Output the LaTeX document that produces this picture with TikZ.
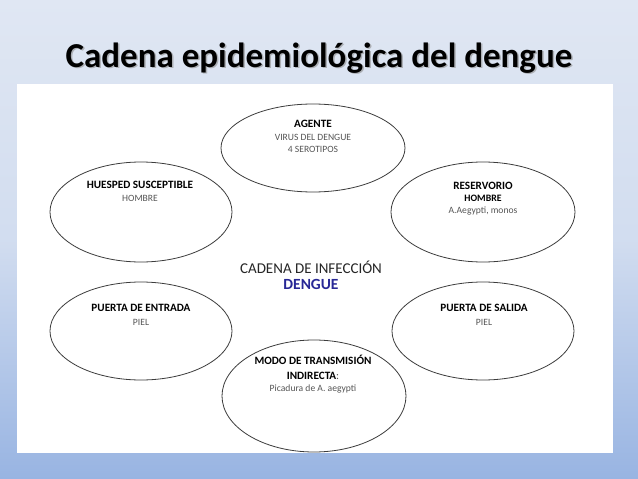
\documentclass[tikz,border=0pt]{standalone}
\usepackage{fontspec}
\setmainfont{Carlito}
\definecolor{bgtop}{RGB}{224,231,243}
\definecolor{bgbot}{RGB}{152,180,226}
\definecolor{txtgray}{RGB}{85,85,85}
\definecolor{dengueblue}{RGB}{40,40,150}
\definecolor{ringgray}{RGB}{60,60,60}
\tikzset{
  head/.style={font=\bfseries\fontsize{11.2}{13}\selectfont, text=black, inner sep=0pt},
  sub/.style={font=\fontsize{9.6}{11}\selectfont, text=txtgray, inner sep=0pt},
  ringline/.style={draw=ringgray, line width=0.8pt},
}
\begin{document}
\begin{tikzpicture}[x=1pt,y=-1pt]
\useasboundingbox (0,0) rectangle (638,479);
\shade[top color=bgtop, bottom color=bgbot, middle color=bgtop!80!bgbot, shading angle=0] (0,0) rectangle (638,479);
\fill[white] (17,84) rectangle (613,453);
% title
\node[font=\bfseries\fontsize{35}{40}\selectfont, text=black!45, opacity=0.6] at (320.5,59.5) {Cadena epidemiológica del dengue};
\node[font=\bfseries\fontsize{35}{40}\selectfont, text=black] (title) at (319,58) {Cadena epidemiológica del dengue};
% ellipses
\draw[ringline] (313,148) ellipse [x radius=92, y radius=44];
\draw[ringline] (141,212) ellipse [x radius=91, y radius=50];
\draw[ringline] (483,212) ellipse [x radius=92, y radius=50];
\draw[ringline] (141,331) ellipse [x radius=91, y radius=49];
\draw[ringline] (483,331) ellipse [x radius=91, y radius=49];
\draw[ringline] (314,396) ellipse [x radius=92, y radius=56];
% texts
\node[head] (ag) at (313,124) {AGENTE};
\node[sub] (ag1) at (313,137) {VIRUS DEL DENGUE};
\node[sub] (ag2) at (313,149) {4 SEROTIPOS};
\node[head] (hu) at (140,185) {HUESPED SUSCEPTIBLE};
\node[sub] (hu1) at (140,198) {HOMBRE};
\node[head] (re) at (483,186) {RESERVORIO};
\node[head, font=\bfseries\fontsize{9.8}{11}\selectfont] (re1) at (483,198) {HOMBRE};
\node[sub] (re2) at (483,211) {A.Aegypti, monos};
\node[font=\fontsize{15}{17}\selectfont, text=black!85, inner sep=0pt] (ca) at (311,267) {CADENA DE INFECCIÓN};
\node[font=\bfseries\fontsize{15.5}{17}\selectfont, text=dengueblue, inner sep=0pt] (de) at (311,284) {DENGUE};
\node[head] (pe) at (141,308) {PUERTA DE ENTRADA};
\node[sub] (pe1) at (141,322) {PIEL};
\node[head] (ps) at (484,308) {PUERTA DE SALIDA};
\node[sub] (ps1) at (484,322) {PIEL};
\node[head] (mo) at (313,360) {MODO DE TRANSMISIÓN};
\node[head] (mo1) at (313,376) {INDIRECTA\textmd{\color{txtgray}:}};
\node[sub] (mo2) at (313,389) {Picadura de A. aegypti};
\end{tikzpicture}
\end{document}
